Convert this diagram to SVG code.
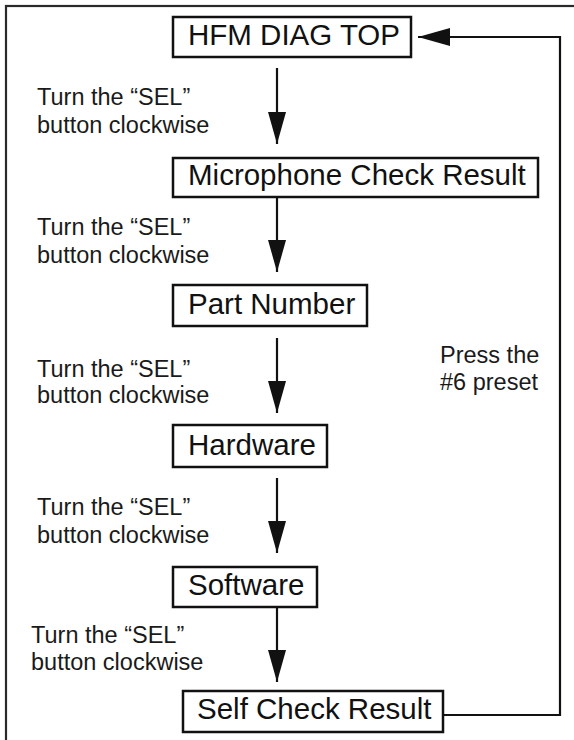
<svg xmlns="http://www.w3.org/2000/svg" width="574" height="740" viewBox="0 0 574 740">
<style>
.frame{fill:none;stroke:#2a2a2a;stroke-width:2.2}
.box{fill:#fff;stroke:#111;stroke-width:2.5}
.nt{font-family:"Liberation Sans",Arial,sans-serif;font-size:29.5px;fill:#111}
.lb{font-family:"Liberation Sans",Arial,sans-serif;font-size:23.5px;fill:#1a1a1a}
.con{fill:none;stroke:#111;stroke-width:2.2}
</style>
<defs>
<marker id="ah" markerUnits="userSpaceOnUse" markerWidth="34" markerHeight="20" refX="32" refY="9" orient="auto">
<path d="M0,0 L32,9 L0,18 Z" fill="#111"/>
</marker>
</defs>
<rect width="574" height="740" fill="#fff"/>
<rect class="frame" x="6" y="6" width="600" height="800"/>
<g id="connectors">
<path class="con" d="M277,68 V144" marker-end="url(#ah)"/>
<path class="con" d="M277,197 V272" marker-end="url(#ah)"/>
<path class="con" d="M277,338 V413" marker-end="url(#ah)"/>
<path class="con" d="M277,478 V553" marker-end="url(#ah)"/>
<path class="con" d="M277,607 V682" marker-end="url(#ah)"/>
<path class="con" d="M443,715 H560 V37 H418" marker-end="url(#ah)"/>
</g>
<g id="n-hfm">
<rect class="box" x="173" y="17" width="238" height="40"/>
<text class="nt" x="188" y="45">HFM DIAG TOP</text>
</g>
<g id="n-mic">
<rect class="box" x="173" y="158" width="365" height="39"/>
<text class="nt" x="188" y="185">Microphone Check Result</text>
</g>
<g id="n-part">
<rect class="box" x="173" y="285" width="194" height="41"/>
<text class="nt" x="188" y="314">Part Number</text>
</g>
<g id="n-hw">
<rect class="box" x="173" y="425" width="154" height="42"/>
<text class="nt" x="188" y="455">Hardware</text>
</g>
<g id="n-sw">
<rect class="box" x="173" y="567" width="144" height="40"/>
<text class="nt" x="188" y="595">Software</text>
</g>
<g id="n-self">
<rect class="box" x="183" y="691" width="260" height="41"/>
<text class="nt" x="197" y="719">Self Check Result</text>
</g>
<g id="labels">
<text class="lb" x="37" y="105">Turn the “SEL”</text>
<text class="lb" x="37" y="133">button clockwise</text>
<text class="lb" x="37" y="235">Turn the “SEL”</text>
<text class="lb" x="37" y="263">button clockwise</text>
<text class="lb" x="37" y="377">Turn the “SEL”</text>
<text class="lb" x="37" y="403">button clockwise</text>
<text class="lb" x="37" y="515">Turn the “SEL”</text>
<text class="lb" x="37" y="543">button clockwise</text>
<text class="lb" x="31" y="643">Turn the “SEL”</text>
<text class="lb" x="31" y="670">button clockwise</text>
<text class="lb" x="440" y="363">Press the</text>
<text class="lb" x="440" y="390">#6 preset</text>
</g>
</svg>
